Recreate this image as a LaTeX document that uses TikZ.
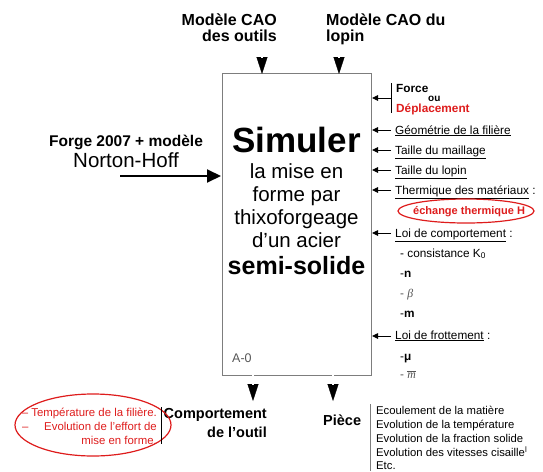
\documentclass[tikz,border=0pt]{standalone}
\usepackage{fontspec}
\setmainfont{Liberation Sans}
\newfontfamily\serifit{Liberation Serif}
\usetikzlibrary{arrows.meta}
\definecolor{redmark}{RGB}{222,28,28}
\definecolor{boxgray}{RGB}{125,125,125}
\definecolor{lightgray}{RGB}{85,85,85}
\newcommand{\fs}[1]{\fontsize{#1}{#1}\selectfont}
\begin{document}
\begin{tikzpicture}[x=1pt,y=-1pt,
  lbl/.style={inner sep=0pt, anchor=base west},
  lblr/.style={inner sep=0pt, anchor=base east},
  lblc/.style={inner sep=0pt, anchor=base},
  bigarrow/.style={line width=0.4pt, -{Triangle[length=17pt,width=11pt]},
                   postaction={draw, -, double, double distance=1.6pt, line width=0.6pt, shorten >=16pt}},
  ctrl/.style={line width=0.9pt, -{Triangle[length=6pt,width=5.5pt]}},
  ctrltext/.style={lbl, font=\fs{11.8}},
  subitem/.style={lbl, font=\fs{11.8}},
  piece/.style={lbl, font=\fs{11.3}},
  redtext/.style={lblr, font=\fs{11.4}, text=redmark}]
\useasboundingbox (0,0) rectangle (543,471);

% Activity box
\node[draw=boxgray, line width=1.1pt, minimum width=149pt, minimum height=302pt,
      anchor=north west, inner sep=0pt] (box) at (222,73) {};

% Box contents
\node[lblc, font=\fs{35}\bfseries] (t1) at (296.5,152) {Simuler};
\node[lblc, font=\fs{20.5}] (t2) at (296.5,178) {la mise en};
\node[lblc, font=\fs{20.5}] (t3) at (296.5,201) {forme par};
\node[lblc, font=\fs{20.5}] (t4) at (296.5,224) {thixoforgeage};
\node[lblc, font=\fs{20.5}] (t5) at (296.5,247) {d’un acier};
\node[lblc, font=\fs{25}\bfseries] (t6) at (296.5,274) {semi-solide};
\node[lbl, font=\fs{12.5}, text=lightgray] (a0) at (232,362) {A-0};

% Inputs from the top
\node[lblr, font=\fs{16}\bfseries] (m1) at (277,25) {Modèle CAO};
\node[lblr, font=\fs{16}\bfseries] (m1b) at (277,41) {des outils};
\node[lbl, font=\fs{16}\bfseries] (m2) at (326,25) {Modèle CAO du};
\node[lbl, font=\fs{16}\bfseries] (m2b) at (326,41) {lopin};
\coordinate (m1s) at (262,47);
\coordinate (m1e) at (262,74);
\coordinate (m2s) at (339,47);
\coordinate (m2e) at (339,74);
\draw[bigarrow] (m1s) -- (m1e);
\draw[bigarrow] (m2s) -- (m2e);

% Input from the left
\node[lblc, font=\fs{15.5}\bfseries] (f1) at (126,146) {Forge 2007 + modèle};
\node[lblc, font=\fs{20.5}] (f2) at (126,167) {Norton-Hoff};
\coordinate (fs) at (120,176);
\coordinate (fe) at (221,176);
\draw[line width=2pt, -{Triangle[length=14pt,width=13pt]}] (fs) -- (fe);

% Controls on the right
\node[lbl, font=\fs{11.8}\bfseries] (c1) at (396,92) {Force};
\node[lbl, font=\fs{10}\bfseries] (c1b) at (428,101) {ou};
\node[lbl, font=\fs{11.8}\bfseries, text=redmark] (c1c) at (396,112) {Déplacement};
\coordinate (barT) at (391,83);
\coordinate (barB) at (391,113);
\draw[line width=1pt] (barT) -- (barB);
\coordinate (c1s) at (391,98);
\coordinate (c1e) at (372,98);
\draw[ctrl] (c1s) -- (c1e);

\node[ctrltext] (c2) at (395,134) {\underline{Géométrie de la filière}};
\node[ctrltext] (c3) at (395,154) {\underline{Taille du maillage}};
\node[ctrltext] (c4) at (395,174) {\underline{Taille du lopin}};
\node[ctrltext] (c5) at (395,194) {\underline{Thermique des matériaux} :};
\node[lbl, font=\fs{11}\bfseries, text=redmark] (c5b) at (413,214) {échange thermique H};
\draw[redmark, line width=1.2pt] (466,211) ellipse [x radius=68, y radius=12];
\node[ctrltext] (c6) at (395,237) {\underline{Loi de comportement} :};
\node[subitem] (s1) at (400,257) {- consistance K\textsubscript{0}};
\node[subitem] (s2) at (400,277) {-\textbf{n}};
\node[subitem, text=lightgray] (s3) at (400,297) {- {\serifit\itshape β}};
\node[subitem] (s4) at (400,317) {-\textbf{m}};
\node[ctrltext] (c7) at (395,339) {\underline{Loi de frottement} :};
\node[subitem] (s5) at (400,360) {-\textbf{μ}};
\node[subitem, text=lightgray] (s6) at (400,378) {- {\serifit\itshape $\overline{\mbox{\serifit\itshape m}}$}};

\foreach \n/\y in {c2/130, c3/150, c4/170, c5/190, c6/233, c7/336}{
  \coordinate (\n s) at (391,\y);
  \coordinate (\n e) at (372,\y);
  \draw[ctrl] (\n s) -- (\n e);
}

% Outputs at the bottom
\coordinate (o1s) at (253,374);
\coordinate (o1e) at (253,401);
\coordinate (o2s) at (333,374);
\coordinate (o2e) at (333,401);
\draw[bigarrow] (o1s) -- (o1e);
\draw[bigarrow] (o2s) -- (o2e);
\node[lblr, font=\fs{14.5}\bfseries] (out1) at (267,418) {Comportement};
\node[lblr, font=\fs{14.5}\bfseries] (out1b) at (267,437) {de l’outil};
\node[lbl, font=\fs{14.5}\bfseries] (out2) at (323,425) {Pièce};

% Details of the part output
\coordinate (pT) at (370,404);
\coordinate (pB) at (370,471);
\draw[boxgray, line width=0.8pt] (pT) -- (pB);
\node[piece] (p1) at (376,414) {Ecoulement de la matière};
\node[piece] (p2) at (376,428) {Evolution de la température};
\node[piece] (p3) at (376,442) {Evolution de la fraction solide};
\node[piece] (p4) at (376,456) {Evolution des vitesses cisaille\textsuperscript{l}};
\node[piece] (p5) at (376,469) {Etc.};

% Details of the tool output
\draw[redmark, line width=1.2pt] (93,425) ellipse [x radius=78, y radius=31];
\node[redtext] (r1) at (157,416) {– Température de la filière.};
\node[redtext] (r2) at (157,430) {Evolution de l’effort de};
\node[lbl, font=\fs{11.4}, text=redmark] (r2d) at (22,430) {–};
\node[redtext] (r3) at (157,444) {mise en forme.};
\coordinate (rT) at (161,407);
\coordinate (rB) at (161,444);
\draw[line width=0.8pt] (rT) -- (rB);
\end{tikzpicture}
\end{document}
